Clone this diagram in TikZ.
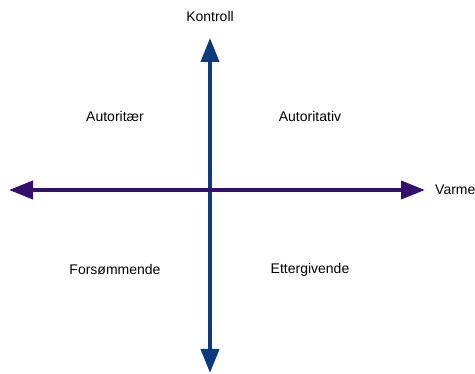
\documentclass[tikz,border=0pt]{standalone}
\usepackage{fontspec}
\setmainfont{Liberation Sans}
\usepackage{xcolor}
\usepackage{tikz}
\usetikzlibrary{arrows.meta, positioning}
\definecolor{axisblue}{HTML}{0B3B7C}
\definecolor{axispurple}{HTML}{33106B}

\begin{document}
\begin{tikzpicture}[
  x=1pt, y=-1pt,
  axis/.style={line width=4pt, {Triangle[length=24pt, width=18pt]}-{Triangle[length=24pt, width=18pt]}},
  lbl/.style={font=\fontsize{14}{16}\selectfont, inner sep=0pt},
]
  \useasboundingbox (0,0) rectangle (475,374);
  \coordinate (top) at (210, 38);
  \coordinate (bottom) at (210, 373);
  \coordinate (left) at (9, 190);
  \coordinate (right) at (425, 190);
  % axes
  \draw[axis, color=axisblue] (bottom) -- (top);
  \draw[axis, color=axispurple] (left) -- (right);
  % axis labels
  \node[lbl, above=16pt of top] (kontroll) {Kontroll};
  \node[lbl, right=10pt of right] (varme) {Varme};
  % quadrants
  \node[lbl] (autoritaer) at (115, 116) {Autoritær};
  \node[lbl] (autoritativ) at (310, 116) {Autoritativ};
  \node[lbl] (forsommende) at (115, 270) {Forsømmende};
  \node[lbl] (ettergivende) at (310, 270) {Ettergivende};
\end{tikzpicture}
\end{document}
